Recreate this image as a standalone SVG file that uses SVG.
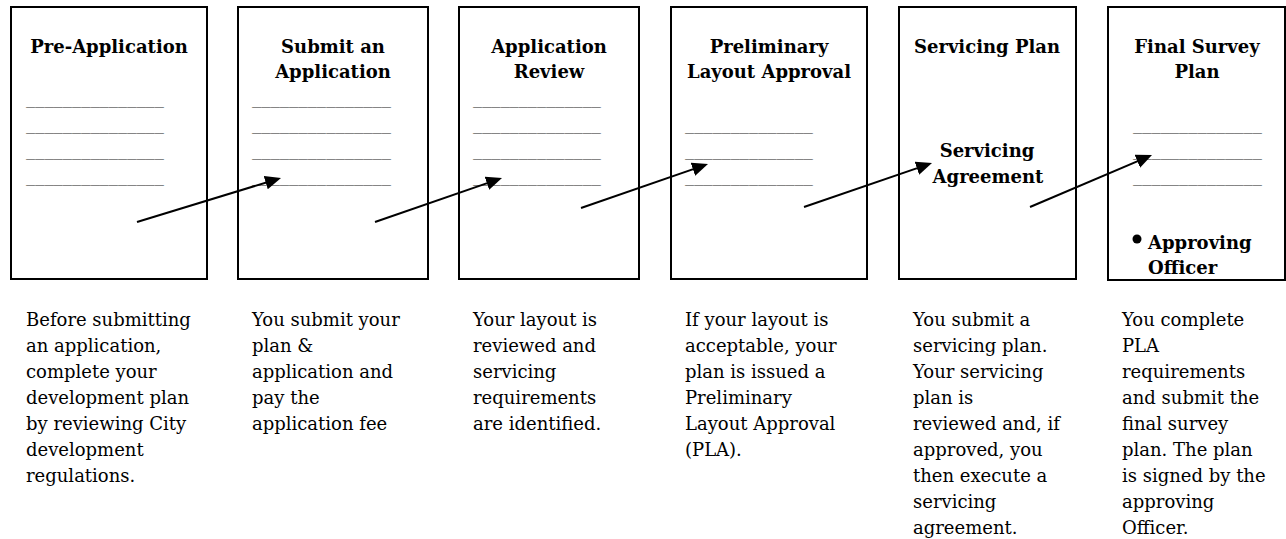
<svg xmlns="http://www.w3.org/2000/svg" width="1286" height="539" viewBox="0 0 1286 539">
<style>
.box{fill:#fff;stroke:#000;stroke-width:2}
.t{font-family:"DejaVu Serif","Liberation Serif",serif;font-size:18px;font-weight:bold;fill:#000;text-anchor:middle}
.tl{font-family:"DejaVu Serif","Liberation Serif",serif;font-size:18px;font-weight:bold;fill:#000}
.u{font-family:"DejaVu Serif","Liberation Serif",serif;font-size:18px;fill:#1a1a1a}
.d{font-family:"DejaVu Serif","Liberation Serif",serif;font-size:18px;fill:#000}
.c{stroke:#000;stroke-width:2;fill:none}
</style>
<defs>
<marker id="ah" markerUnits="userSpaceOnUse" markerWidth="18" markerHeight="15" refX="5" refY="7" orient="auto">
<path d="M0,0 L16,7 L0,14 z" fill="#000"/>
</marker>
</defs>

<g id="node-pre-application">
<rect class="box" x="11" y="7" width="196" height="272"/>
<text class="t" x="109" y="53">Pre-Application</text>
<text class="u" x="26" y="103" textLength="138" lengthAdjust="spacingAndGlyphs">_______________</text>
<text class="u" x="26" y="129" textLength="138" lengthAdjust="spacingAndGlyphs">_______________</text>
<text class="u" x="26" y="155" textLength="138" lengthAdjust="spacingAndGlyphs">_______________</text>
<text class="u" x="26" y="181" textLength="138" lengthAdjust="spacingAndGlyphs">_______________</text>
</g>

<g id="node-submit">
<rect class="box" x="238" y="7" width="190" height="272"/>
<text class="t" x="333" y="53">Submit an</text>
<text class="t" x="333" y="78">Application</text>
<text class="u" x="252" y="103" textLength="139" lengthAdjust="spacingAndGlyphs">_______________</text>
<text class="u" x="252" y="129" textLength="139" lengthAdjust="spacingAndGlyphs">_______________</text>
<text class="u" x="252" y="155" textLength="139" lengthAdjust="spacingAndGlyphs">_______________</text>
<text class="u" x="252" y="181" textLength="139" lengthAdjust="spacingAndGlyphs">_______________</text>
</g>

<g id="node-review">
<rect class="box" x="459" y="7" width="180" height="272"/>
<text class="t" x="549" y="53">Application</text>
<text class="t" x="549" y="78">Review</text>
<text class="u" x="473" y="103" textLength="128" lengthAdjust="spacingAndGlyphs">______________</text>
<text class="u" x="473" y="129" textLength="128" lengthAdjust="spacingAndGlyphs">______________</text>
<text class="u" x="473" y="155" textLength="128" lengthAdjust="spacingAndGlyphs">______________</text>
<text class="u" x="473" y="181" textLength="128" lengthAdjust="spacingAndGlyphs">______________</text>
</g>

<g id="node-pla">
<rect class="box" x="671" y="7" width="196" height="272"/>
<text class="t" x="769" y="53">Preliminary</text>
<text class="t" x="769" y="78">Layout Approval</text>
<text class="u" x="685" y="129" textLength="128" lengthAdjust="spacingAndGlyphs">______________</text>
<text class="u" x="685" y="155" textLength="128" lengthAdjust="spacingAndGlyphs">______________</text>
<text class="u" x="685" y="181" textLength="128" lengthAdjust="spacingAndGlyphs">______________</text>
</g>

<g id="node-servicing">
<rect class="box" x="899" y="7" width="177" height="272"/>
<text class="t" x="987" y="53">Servicing Plan</text>
<text class="t" x="987" y="157">Servicing</text>
<text class="t" x="988" y="183">Agreement</text>
</g>

<g id="node-final">
<rect class="box" x="1108" y="7" width="177" height="273"/>
<text class="t" x="1197" y="53">Final Survey</text>
<text class="t" x="1197" y="78">Plan</text>
<text class="u" x="1133" y="129" textLength="129" lengthAdjust="spacingAndGlyphs">______________</text>
<text class="u" x="1133" y="155" textLength="129" lengthAdjust="spacingAndGlyphs">______________</text>
<text class="u" x="1133" y="181" textLength="129" lengthAdjust="spacingAndGlyphs">______________</text>
<circle cx="1137" cy="239" r="4.5" fill="#000"/>
<text class="tl" x="1148" y="249">Approving</text>
<text class="tl" x="1148" y="274">Officer</text>
</g>

<g id="connectors">
<line class="c" x1="137" y1="222" x2="270.5" y2="181.2" marker-end="url(#ah)"/>
<line class="c" x1="375" y1="222" x2="491.6" y2="181.6" marker-end="url(#ah)"/>
<line class="c" x1="581" y1="208" x2="697.6" y2="167.6" marker-end="url(#ah)"/>
<line class="c" x1="804" y1="207" x2="921.6" y2="166.6" marker-end="url(#ah)"/>
<line class="c" x1="1030" y1="207" x2="1141.9" y2="159.3" marker-end="url(#ah)"/>
</g>

<g id="desc-1">
<text class="d" x="26" y="326">
<tspan x="26" y="326">Before submitting</tspan>
<tspan x="26" y="352">an application,</tspan>
<tspan x="26" y="378">complete your</tspan>
<tspan x="26" y="404">development plan</tspan>
<tspan x="26" y="430">by reviewing City</tspan>
<tspan x="26" y="456">development</tspan>
<tspan x="26" y="482">regulations.</tspan>
</text>
</g>
<g id="desc-2">
<text class="d" x="252" y="326">
<tspan x="252" y="326">You submit your</tspan>
<tspan x="252" y="352">plan &amp;</tspan>
<tspan x="252" y="378">application and</tspan>
<tspan x="252" y="404">pay the</tspan>
<tspan x="252" y="430">application fee</tspan>
</text>
</g>
<g id="desc-3">
<text class="d" x="473" y="326">
<tspan x="473" y="326">Your layout is</tspan>
<tspan x="473" y="352">reviewed and</tspan>
<tspan x="473" y="378">servicing</tspan>
<tspan x="473" y="404">requirements</tspan>
<tspan x="473" y="430">are identified.</tspan>
</text>
</g>
<g id="desc-4">
<text class="d" x="685" y="326">
<tspan x="685" y="326">If your layout is</tspan>
<tspan x="685" y="352">acceptable, your</tspan>
<tspan x="685" y="378">plan is issued a</tspan>
<tspan x="685" y="404">Preliminary</tspan>
<tspan x="685" y="430">Layout Approval</tspan>
<tspan x="685" y="456">(PLA).</tspan>
</text>
</g>
<g id="desc-5">
<text class="d" x="913" y="326">
<tspan x="913" y="326">You submit a</tspan>
<tspan x="913" y="352">servicing plan.</tspan>
<tspan x="913" y="378">Your servicing</tspan>
<tspan x="913" y="404">plan is</tspan>
<tspan x="913" y="430">reviewed and, if</tspan>
<tspan x="913" y="456">approved, you</tspan>
<tspan x="913" y="482">then execute a</tspan>
<tspan x="913" y="508">servicing</tspan>
<tspan x="913" y="534">agreement.</tspan>
</text>
</g>
<g id="desc-6">
<text class="d" x="1122" y="326">
<tspan x="1122" y="326">You complete</tspan>
<tspan x="1122" y="352">PLA</tspan>
<tspan x="1122" y="378">requirements</tspan>
<tspan x="1122" y="404">and submit the</tspan>
<tspan x="1122" y="430">final survey</tspan>
<tspan x="1122" y="456">plan. The plan</tspan>
<tspan x="1122" y="482">is signed by the</tspan>
<tspan x="1122" y="508">approving</tspan>
<tspan x="1122" y="534">Officer.</tspan>
</text>
</g>
</svg>
